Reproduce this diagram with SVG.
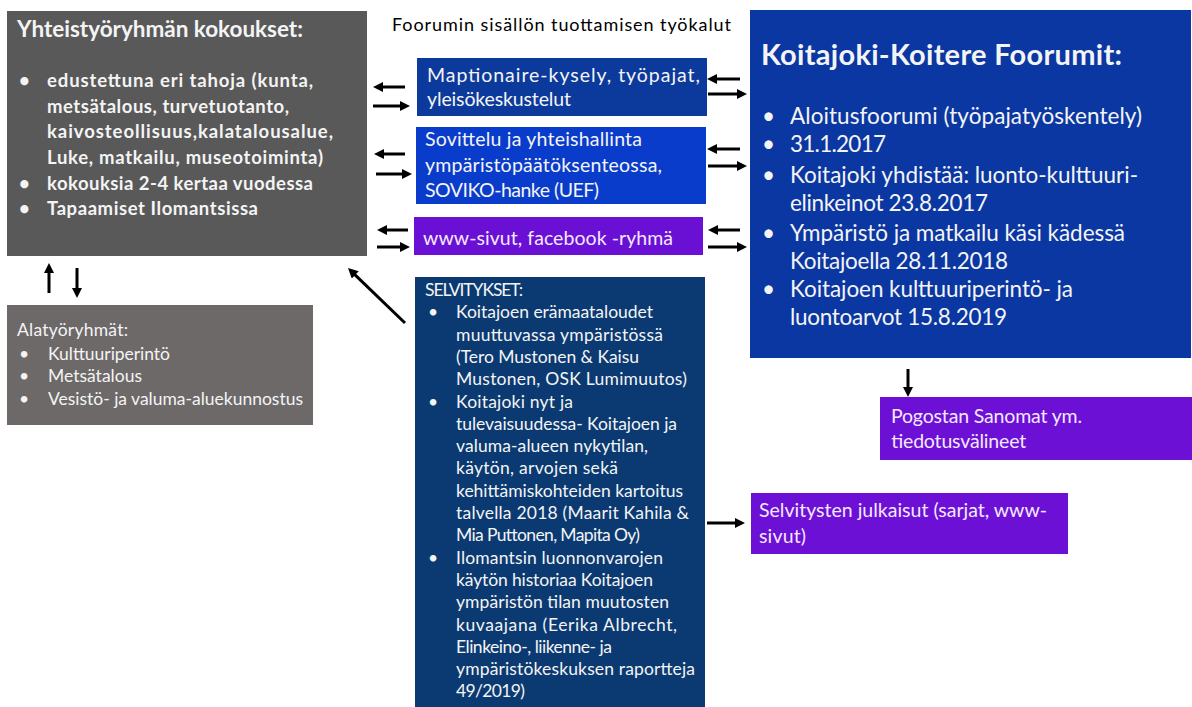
<svg xmlns="http://www.w3.org/2000/svg" width="1192" height="707" viewBox="0 0 1192 707">
<style>
text{font-family:Lato,"Liberation Sans",sans-serif;}
.w{fill:#f4f4f4;}
.p{fill:#f4e8ff;}
.m{font-size:19.5px;}
.b{font-weight:bold;}
.ln{stroke:#000;stroke-width:3;fill:none;marker-end:url(#ah);}
</style>
<defs>
<marker id="ah" viewBox="0 0 10 10" refX="6" refY="5" markerWidth="10" markerHeight="10" markerUnits="userSpaceOnUse" orient="auto">
<path d="M0,0 L10,5 L0,10 z" fill="#000"/>
</marker>
</defs>
<rect width="1192" height="707" fill="#fff"/>

<g id="yhteistyo">
<rect x="7" y="11" width="360" height="245" fill="#595959"/>
<text x="17" y="37" class="w b" font-size="22.5" textLength="286">Yhteistyöryhmän kokoukset:</text>
<g class="w b" font-size="18.5">
<text x="19" y="87">•</text><text x="47" y="87" textLength="266">edustettuna eri tahoja (kunta,</text>
<text x="47" y="113" textLength="242">metsätalous, turvetuotanto,</text>
<text x="47" y="138" textLength="286">kaivosteollisuus,kalatalousalue,</text>
<text x="47" y="164" textLength="276">Luke, matkailu, museotoiminta)</text>
<text x="19" y="190">•</text><text x="47" y="190" textLength="266">kokouksia 2-4 kertaa vuodessa</text>
<text x="19" y="215">•</text><text x="47" y="215" textLength="211">Tapaamiset Ilomantsissa</text>
</g>
</g>

<text id="header" x="392" y="31" font-size="18" fill="#000" textLength="339">Foorumin sisällön tuottamisen työkalut</text>

<g id="maptionaire">
<rect x="417" y="58" width="290" height="58" fill="#0c3a9c"/>
<text x="427" y="82" class="w m" textLength="273">Maptionaire-kysely, työpajat,</text>
<text x="427" y="106" class="w m" textLength="144">yleisökeskustelut</text>
</g>

<g id="sovittelu">
<rect x="416" y="127" width="290" height="77" fill="#0a3ccc"/>
<text x="425" y="146" class="w m" textLength="217">Sovittelu ja yhteishallinta</text>
<text x="425" y="172" class="w m" textLength="237">ympäristöpäätöksenteossa,</text>
<text x="425" y="197" class="w m" textLength="174">SOVIKO-hanke (UEF)</text>
</g>

<g id="www">
<rect x="414" y="217" width="289" height="38" fill="#6a10d4"/>
<text x="423" y="245" class="p m" textLength="250">www-sivut, facebook -ryhmä</text>
</g>

<g id="foorumit">
<rect x="750" y="10" width="441" height="348" fill="#0b37a2"/>
<text x="761" y="65" class="w b" font-size="29" textLength="361">Koitajoki-Koitere Foorumit:</text>
<g class="w" font-size="22.5">
<text x="762" y="124">•</text><text x="790" y="124" textLength="352">Aloitusfoorumi (työpajatyöskentely)</text>
<text x="762" y="152">•</text><text x="790" y="152" textLength="96">31.1.2017</text>
<text x="762" y="183">•</text><text x="790" y="183" textLength="348">Koitajoki yhdistää: luonto-kulttuuri-</text>
<text x="790" y="211" textLength="198">elinkeinot 23.8.2017</text>
<text x="762" y="241">•</text><text x="790" y="241" textLength="335">Ympäristö ja matkailu käsi kädessä</text>
<text x="790" y="269" textLength="218">Koitajoella 28.11.2018</text>
<text x="762" y="297">•</text><text x="790" y="297" textLength="283">Koitajoen kulttuuriperintö- ja</text>
<text x="790" y="325" textLength="217">luontoarvot 15.8.2019</text>
</g>
</g>

<g id="alatyoryhmat">
<rect x="7" y="305" width="306" height="120" fill="#6d6969"/>
<g class="w" font-size="17.5">
<text x="17" y="336" textLength="111">Alatyöryhmät:</text>
<text x="19" y="360">•</text><text x="48" y="360" textLength="122">Kulttuuriperintö</text>
<text x="19" y="382">•</text><text x="48" y="382" textLength="94">Metsätalous</text>
<text x="19" y="405">•</text><text x="48" y="405" textLength="255">Vesistö- ja valuma-aluekunnostus</text>
</g>
</g>

<g id="selvitykset">
<rect x="415" y="277" width="290" height="430" fill="#0b3a72"/>
<g class="w" font-size="17.5">
<text x="425" y="296" textLength="98">SELVITYKSET:</text>
<text x="428" y="318.3">•</text><text x="456" y="318.3" textLength="197">Koitajoen erämaataloudet</text>
<text x="456" y="340.6" textLength="207">muuttuvassa ympäristössä</text>
<text x="456" y="362.9" textLength="183">(Tero Mustonen &amp; Kaisu</text>
<text x="456" y="385.2" textLength="231">Mustonen, OSK Lumimuutos)</text>
<text x="428" y="407.5">•</text><text x="456" y="407.5" textLength="117">Koitajoki nyt ja</text>
<text x="456" y="429.8" textLength="221">tulevaisuudessa- Koitajoen ja</text>
<text x="456" y="452.1" textLength="192">valuma-alueen nykytilan,</text>
<text x="456" y="474.4" textLength="162">käytön, arvojen sekä</text>
<text x="456" y="496.7" textLength="227">kehittämiskohteiden kartoitus</text>
<text x="456" y="519" textLength="233">talvella 2018 (Maarit Kahila &amp;</text>
<text x="456" y="541.3" textLength="184">Mia Puttonen, Mapita Oy)</text>
<text x="428" y="563.6">•</text><text x="456" y="563.6" textLength="207">Ilomantsin luonnonvarojen</text>
<text x="456" y="585.9" textLength="197">käytön historiaa Koitajoen</text>
<text x="456" y="608.2" textLength="213">ympäristön tilan muutosten</text>
<text x="456" y="630.5" textLength="221">kuvaajana (Eerika Albrecht,</text>
<text x="456" y="652.8" textLength="156">Elinkeino-, liikenne- ja</text>
<text x="456" y="675.1" textLength="239">ympäristökeskuksen raportteja</text>
<text x="456" y="697.4" textLength="69">49/2019)</text>
</g>
</g>

<g id="pogostan">
<rect x="880" y="397" width="312" height="63" fill="#6c10d6"/>
<text x="891" y="423" class="p m" textLength="191">Pogostan Sanomat ym.</text>
<text x="891" y="448" class="p m" textLength="135">tiedotusvälineet</text>
</g>

<g id="julkaisut">
<rect x="751" y="493" width="317" height="61" fill="#6c10d6"/>
<text x="759" y="517" class="p m" textLength="288">Selvitysten julkaisut (sarjat, www-</text>
<text x="759" y="543" class="p m" textLength="47">sivut)</text>
</g>

<g id="connectors">
<line class="ln" x1="405" y1="87" x2="377" y2="87"/>
<line class="ln" x1="373" y1="106" x2="406" y2="106"/>
<line class="ln" x1="405" y1="154" x2="378" y2="154"/>
<line class="ln" x1="376" y1="174" x2="408" y2="174"/>
<line class="ln" x1="408" y1="230" x2="381" y2="230"/>
<line class="ln" x1="377" y1="247" x2="406" y2="247"/>
<line class="ln" x1="740" y1="79" x2="711" y2="79"/>
<line class="ln" x1="708" y1="94" x2="743" y2="94"/>
<line class="ln" x1="740" y1="149" x2="711" y2="149"/>
<line class="ln" x1="708" y1="166" x2="743" y2="166"/>
<line class="ln" x1="740" y1="230" x2="712" y2="230"/>
<line class="ln" x1="708" y1="247" x2="743" y2="247"/>
<line class="ln" x1="49" y1="293" x2="49" y2="267"/>
<line class="ln" x1="77" y1="268" x2="77" y2="294"/>
<line class="ln" x1="405" y1="323" x2="350.9" y2="270.8"/>
<line class="ln" x1="908" y1="369" x2="908" y2="393"/>
<line class="ln" x1="707" y1="523" x2="741" y2="523"/>
</g>
</svg>
